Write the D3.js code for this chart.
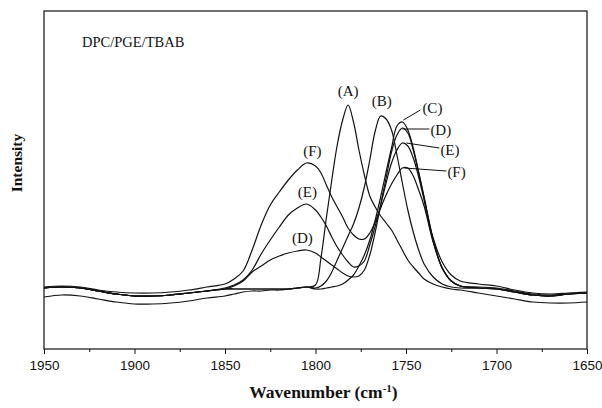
<!DOCTYPE html>
<html>
<head>
<meta charset="utf-8">
<script src="https://cdn.jsdelivr.net/npm/d3@7"></script>
<style>
  body { margin: 0; background: #fff; }
  svg { display: block; }
  .axis-x .tick text { font-family: 'Liberation Sans', Arial, sans-serif; font-size: 13.5px; fill: #111; }
  .axis-x .tick line { stroke: #111; stroke-width: 1; }
  .frame { fill: none; stroke: #111; stroke-width: 1.2; }
  .spectrum { fill: none; stroke: #111; stroke-width: 1.2; }
  .serif { font-family: 'Liberation Serif', 'Times New Roman', serif; fill: #111; }
  .leader { stroke: #111; stroke-width: 1; }
</style>
</head>
<body>
<svg id="chart" width="602" height="408"></svg>
<script>
// wavenumber grid (cm-1), denser round the carbonyl band
const wavenumbers = [1950, 1940, 1930, 1920, 1910, 1900, 1890, 1880, 1870, 1860,
  1850, 1845, 1840, 1835, 1830, 1825, 1820, 1815, 1810, 1805,
  1800, 1797, 1794, 1791, 1788, 1785, 1782, 1779, 1776, 1773,
  1770, 1767, 1764, 1761, 1758, 1755, 1752, 1749, 1746, 1743,
  1740, 1735, 1730, 1725, 1720, 1710, 1700, 1690, 1680, 1670,
  1660, 1650];

// intensity, arbitrary units
const seriesA = [52, 54, 53, 50, 47, 45, 45, 46, 48, 51,
  53, 55, 57, 58, 58, 59, 59, 60, 61, 62,
  64, 91, 131, 169, 204, 229, 244, 227, 199, 174,
  153, 142, 133, 126, 119, 109, 99, 89, 82, 76,
  70, 65, 62, 60, 59, 56, 53, 50, 47, 46,
  46, 47];
const seriesB = [61, 62, 61, 58, 55, 53, 53, 54, 56, 58,
  60, 60, 60, 60, 60, 60, 60, 60, 61, 62,
  61, 63, 68, 77, 89, 101, 113, 125, 141, 162,
  189, 218, 233, 230, 219, 194, 166, 139, 117, 99,
  85, 72, 65, 62, 61, 61, 60, 57, 54, 53,
  55, 56];
const seriesC = [61, 62, 61, 58, 55, 53, 53, 54, 56, 58,
  60, 60, 60, 60, 60, 60, 60, 60, 61, 62,
  60, 60, 61, 62, 63, 65, 69, 74, 83, 94,
  109, 129, 152, 177, 201, 223, 227, 219, 201, 177,
  152, 111, 87, 74, 68, 65, 63, 59, 56, 55,
  56, 57];
const seriesD = [61, 62, 61, 58, 55, 53, 53, 54, 56, 58,
  60, 63, 68, 77, 83, 89, 93, 96, 98, 99,
  96, 92, 88, 84, 80, 76, 73, 72, 73, 79,
  94, 117, 144, 171, 197, 214, 221, 216, 199, 176,
  151, 109, 81, 68, 63, 61, 60, 57, 54, 53,
  55, 56];
const seriesE = [61, 62, 61, 58, 55, 53, 53, 54, 56, 58,
  61, 64, 69, 79, 95, 109, 122, 134, 141, 145,
  139, 132, 123, 112, 102, 94, 87, 82, 83, 88,
  104, 123, 144, 166, 186, 199, 206, 203, 191, 172,
  149, 108, 81, 68, 63, 61, 60, 57, 54, 53,
  55, 56];
const seriesF = [62, 63, 62, 59, 57, 56, 56, 57, 59, 62,
  65, 70, 78, 99, 124, 144, 157, 169, 179, 186,
  183, 176, 164, 152, 142, 132, 121, 114, 110, 110,
  116, 127, 141, 154, 165, 174, 181, 181, 173, 159,
  143, 107, 81, 68, 63, 62, 61, 58, 55, 54,
  55, 56];

const seriesNames = ['A', 'B', 'C', 'D', 'E', 'F'];
const seriesValues = [seriesA, seriesB, seriesC, seriesD, seriesE, seriesF];

const xTicks = [1950, 1900, 1850, 1800, 1750, 1700, 1650];
const xMinorTicks = [1925, 1875, 1825, 1775, 1725, 1675];

const sampleName = 'DPC/PGE/TBAB';

// peaks that carry a label: series, wavenumber window
const peakLabels = [
  { name: 'A', window: [1800, 1760], side: 'top' },
  { name: 'B', window: [1780, 1745], side: 'top' },
  { name: 'C', window: [1770, 1740], side: 'right' },
  { name: 'D', window: [1770, 1740], side: 'right' },
  { name: 'E', window: [1770, 1740], side: 'right' },
  { name: 'F', window: [1770, 1740], side: 'right' },
  { name: 'F', window: [1830, 1790], side: 'left' },
  { name: 'E', window: [1830, 1790], side: 'left' },
  { name: 'D', window: [1830, 1790], side: 'left' }
];

function drawChart() {
  const margin = { top: 11, right: 15, bottom: 59, left: 44 };
  const w = 602;
  const h = 408;
  const width = w - margin.left - margin.right;
  const height = h - margin.top - margin.bottom;

  const svg = d3.select('#chart');
  const g = svg.append('g').attr('transform', `translate(${margin.left},${margin.top})`);

  const x = d3.scaleLinear().domain([1950, 1650]).range([0, width]);
  const y = d3.scaleLinear().domain([0, 338]).range([height, 0]);

  // minor ticks first, then labelled major ticks
  g.append('g')
    .attr('class', 'axis-x')
    .attr('transform', `translate(0,${height})`)
    .call(d3.axisBottom(x).tickValues(xMinorTicks).tickSize(3).tickFormat(''))
    .call(ax => ax.select('.domain').remove());

  g.append('g')
    .attr('class', 'axis-x')
    .attr('transform', `translate(0,${height})`)
    .call(d3.axisBottom(x).tickValues(xTicks).tickSize(5).tickPadding(6).tickFormat(d3.format('d')))
    .call(ax => ax.select('.domain').remove());

  g.append('rect')
    .attr('class', 'frame')
    .attr('x', 0)
    .attr('y', 0)
    .attr('width', width)
    .attr('height', height);

  const line = d3.line()
    .x((d, i) => x(wavenumbers[i]))
    .y(d => y(d))
    .curve(d3.curveCatmullRom.alpha(0.5));

  g.selectAll('.spectrum')
    .data(seriesValues)
    .join('path')
    .attr('class', 'spectrum')
    .attr('d', line);

  // label layout, pixel offsets from the peak
  const layout = {
    top: { A: { dx: 0, dy: -9 }, B: { dx: 1, dy: -10 } },
    right: {
      C: { lx1: 1, ly1: -2, lx2: 18, ly2: -12, tx: 20, ty: -9 },
      D: { lx1: 0, ly1: 1, lx2: 27, ly2: 1, tx: 28, ty: 7 },
      E: { lx1: 4, ly1: 0, lx2: 37, ly2: 5, tx: 38, ty: 12 },
      F: { lx1: 2, ly1: 0, lx2: 44, ly2: 3, tx: 45, ty: 9 }
    },
    left: { F: { dx: 6, dy: -7 }, E: { dx: 1, dy: -7 }, D: { dx: -4, dy: -7 } }
  };

  peakLabels.forEach(p => {
    const values = seriesValues[seriesNames.indexOf(p.name)];
    let best = -1;
    wavenumbers.forEach((wn, i) => {
      if (wn <= p.window[0] && wn >= p.window[1] && (best < 0 || values[i] > values[best])) best = i;
    });
    const px = x(wavenumbers[best]);
    const py = y(values[best]);
    const text = `(${p.name})`;

    if (p.side === 'right') {
      const o = layout.right[p.name];
      g.append('line')
        .attr('class', 'leader')
        .attr('x1', px + o.lx1).attr('y1', py + o.ly1)
        .attr('x2', px + o.lx2).attr('y2', py + o.ly2);
      g.append('text')
        .attr('class', 'serif')
        .attr('x', px + o.tx)
        .attr('y', py + o.ty)
        .style('font-size', '15px')
        .text(text);
    } else {
      const o = layout[p.side][p.name];
      g.append('text')
        .attr('class', 'serif')
        .attr('x', px + o.dx)
        .attr('y', py + o.dy)
        .attr('text-anchor', 'middle')
        .style('font-size', '15px')
        .text(text);
    }
  });

  g.append('text')
    .attr('class', 'serif')
    .attr('x', 38)
    .attr('y', 36)
    .style('font-size', '14.5px')
    .text(sampleName);

  svg.append('text')
    .attr('class', 'serif')
    .attr('transform', `translate(22,${margin.top + 152}) rotate(-90)`)
    .attr('text-anchor', 'middle')
    .style('font-size', '15.5px')
    .style('font-weight', 'bold')
    .text('Intensity');

  const xTitle = svg.append('text')
    .attr('class', 'serif')
    .attr('x', margin.left + width / 2 + 8)
    .attr('y', 398)
    .attr('text-anchor', 'middle')
    .style('font-size', '17.5px')
    .style('font-weight', 'bold');
  xTitle.append('tspan').text('Wavenumber (cm');
  xTitle.append('tspan').attr('dy', -6).style('font-size', '11px').text('-1');
  xTitle.append('tspan').attr('dy', 6).text(')');
}

drawChart();
</script>
</body>
</html>
